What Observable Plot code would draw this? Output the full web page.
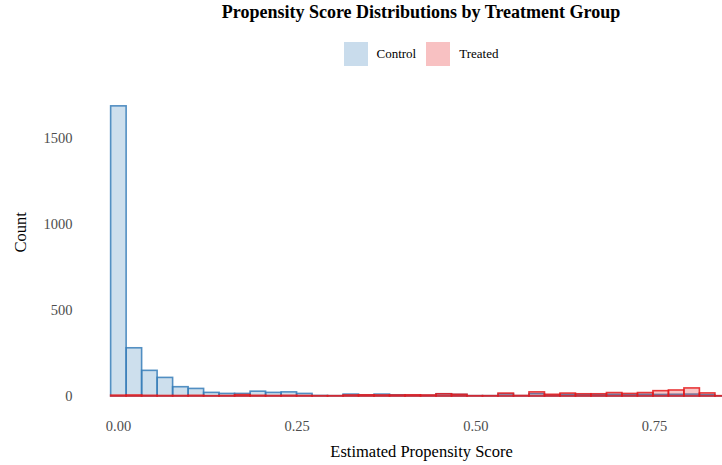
<!DOCTYPE html>
<html>
<head>
<meta charset="utf-8">
<script src="https://cdn.jsdelivr.net/npm/d3@7"></script>
<script src="https://cdn.jsdelivr.net/npm/@observablehq/plot@0.6"></script>
<style>
  html, body { margin: 0; padding: 0; background: #fff; overflow: hidden; }
  body { font-family: "Liberation Serif", "Times New Roman", serif; width: 722px; }
  #title { width: 722px; height: 30px; box-sizing: border-box; padding-left: 120px; text-align: center;
           font-weight: bold; font-size: 18px; line-height: 24px; color: #000; }
  #legend { width: 722px; height: 50px; box-sizing: border-box; padding-left: 120px; padding-top: 12px;
            display: flex; justify-content: center; align-items: flex-start; font-size: 13px; color: #000; }
  .item { display: flex; align-items: center; height: 24px; }
  .key { width: 24px; height: 24px; margin-right: 9px; }
  .gap { width: 10px; }
</style>
</head>
<body>
<div id="title">Propensity Score Distributions by Treatment Group</div>
<div id="legend"></div>
<div id="chart"></div>
<script>
// Histogram bins (estimated propensity score)
const binStart = -0.0103;
const binWidth = 0.02168;
const groups = ["Control", "Treated"];
const groupColors = ["#377EB8", "#E41A1C"];
const controlCounts = [1685, 280, 149, 108, 54, 44, 21, 15, 15, 28, 21, 24, 15, 3, 2, 11, 6, 11, 7, 5,
                       4, 13, 9, 2, 2, 12, 2, 14, 5, 9, 8, 8, 10, 8, 10, 9, 10, 11, 8, 1];
const treatedCounts = [5, 6, 4, 3, 3, 4, 2, 3, 8, 4, 3, 4, 3, 2, 2, 6, 7, 6, 6, 7,
                       6, 13, 10, 2, 2, 17, 3, 24, 10, 17, 13, 13, 20, 15, 20, 31, 35, 47, 18, 2];
const xTicks = [0, 0.25, 0.5, 0.75];
const yTicks = [0, 500, 1000, 1500];

const toBins = (counts, group) => counts.map((n, i) => ({
  group, n, x1: binStart + i * binWidth, x2: binStart + (i + 1) * binWidth
}));
const controlBins = toBins(controlCounts, groups[0]);
const treatedBins = toBins(treatedCounts, groups[1]);

// Legend
const legend = document.getElementById("legend");
groups.forEach((g, i) => {
  const item = document.createElement("div");
  item.className = "item";
  const key = document.createElement("div");
  key.className = "key";
  const c = d3.color(groupColors[i]); c.opacity = 0.27;
  key.style.background = c.formatRgb();
  const label = document.createElement("span");
  label.textContent = g;
  item.appendChild(key); item.appendChild(label);
  legend.appendChild(item);
  if (i < groups.length - 1) { const gap = document.createElement("div"); gap.className = "gap"; legend.appendChild(gap); }
});

const chart = Plot.plot({
  width: 722,
  height: 385,
  marginLeft: 80,
  marginRight: 0,
  marginTop: 10,
  marginBottom: 55,
  style: { fontFamily: "'Liberation Serif', 'Times New Roman', serif", background: "#fff" },
  x: { domain: [0, 0.75], range: [118, 654] },
  y: { domain: [0, 1500], range: [316, 57.7] },
  marks: [
    Plot.rectY(controlBins, { x1: "x1", x2: "x2", y: "n", fill: groupColors[0], fillOpacity: 0.25,
      stroke: groupColors[0], strokeOpacity: 0.85, strokeWidth: 1.6, clip: true }),
    Plot.rectY(treatedBins, { x1: "x1", x2: "x2", y: "n", fill: groupColors[1], fillOpacity: 0.25,
      stroke: groupColors[1], strokeOpacity: 0.85, strokeWidth: 1.6, clip: true }),
    Plot.axisX({ ticks: xTicks, tickFormat: d3.format(".2f"), tickSize: 0, tickPadding: 10,
      fontSize: 14.5, color: "#4d4d4d", label: null }),
    Plot.axisY({ ticks: yTicks, tickFormat: d => String(d), tickSize: 0, tickPadding: 8,
      fontSize: 14.5, color: "#4d4d4d", label: null }),
    Plot.text(["Estimated Propensity Score"], { frameAnchor: "bottom", dx: 20, dy: 46, fontSize: 16.5, fill: "#000" }),
    Plot.text(["Count"], { frameAnchor: "left", rotate: -90, dx: -60, dy: 2, fontSize: 16.5, fill: "#000" })
  ]
});
document.getElementById("chart").appendChild(chart);
</script>
</body>
</html>
